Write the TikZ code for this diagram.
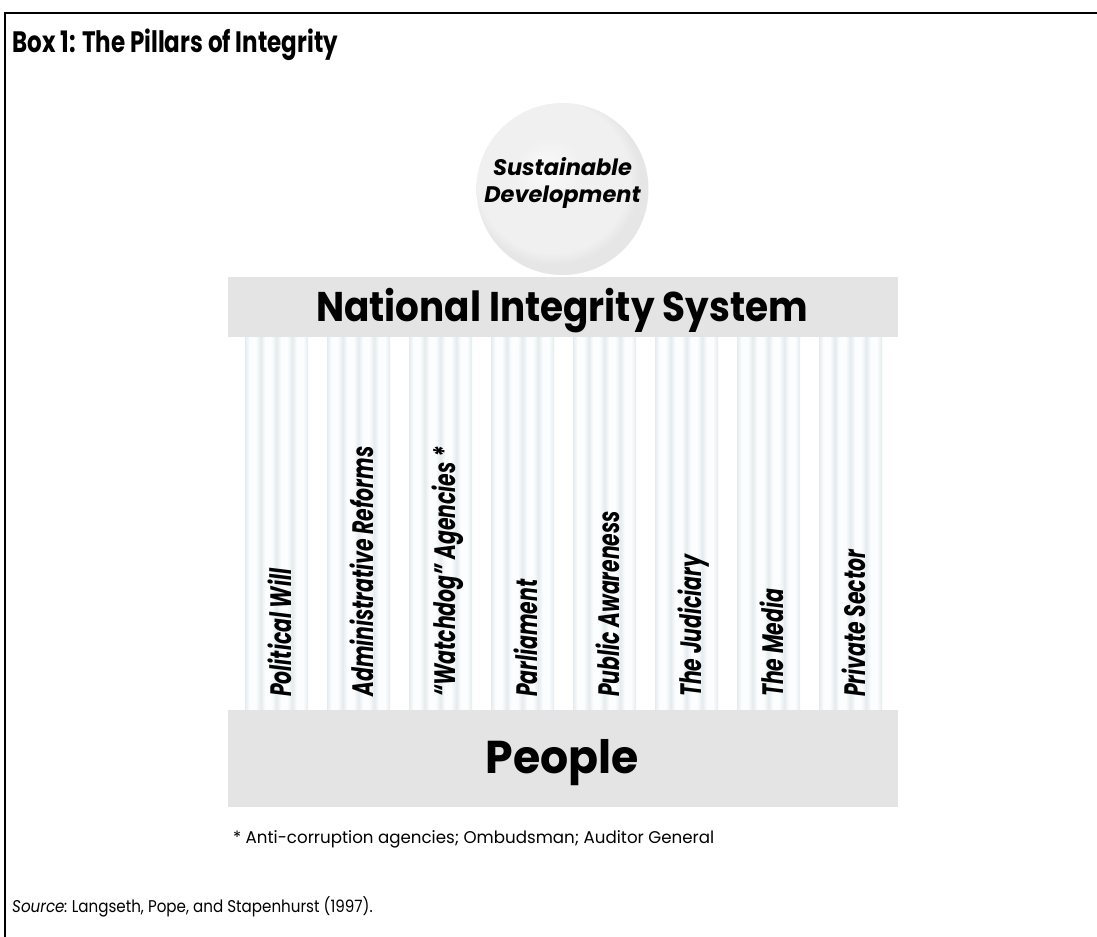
\documentclass[tikz,border=0pt]{standalone}
\usepackage{fontspec}
\setmainfont{Poppins}
\newfontfamily\titlefont[FakeStretch=0.78]{Poppins}
\newfontfamily\pillfont[FakeStretch=0.69]{Poppins}
\newfontfamily\barfont[FakeStretch=0.90]{Poppins}
\newfontfamily\peoplefont[FakeStretch=0.96]{Poppins}
\newfontfamily\bookfont[FakeStretch=0.98]{Poppins}
\newfontfamily\srcfont[FakeStretch=0.89]{Poppins}
\definecolor{bargray}{HTML}{E4E4E4}
\definecolor{pg}{HTML}{E4EBEE}
\definecolor{pw}{HTML}{FBFDFE}
\definecolor{sph0}{HTML}{FAFAFA}
\definecolor{sph1}{HTML}{F0F0F0}
\definecolor{sph2}{HTML}{E6E6E6}
\pgfdeclarehorizontalshading{flute}{100bp}{color(0bp)=(pg); color(25bp)=(pg);
  color(28.5bp)=(pw); color(33.5bp)=(pw); color(37.5bp)=(pg);
  color(41bp)=(pw); color(46bp)=(pw); color(50bp)=(pg);
  color(53.5bp)=(pw); color(58.5bp)=(pw); color(62.5bp)=(pg);
  color(66bp)=(pw); color(71bp)=(pw); color(75bp)=(pg); color(100bp)=(pg)}
\pgfdeclareradialshading{sphere}{\pgfpoint{-5bp}{6bp}}{color(0bp)=(sph0);
  color(10bp)=(sph1); color(22bp)=(sph1); color(25bp)=(sph2); color(50bp)=(sph2)}
\begin{document}
\begin{tikzpicture}[x=1bp,y=-1bp,
  bar/.style={fill=bargray, draw=none, minimum width=670bp, inner sep=0pt},
  pillar/.style={shading=flute, draw=none},
  pilllabel/.style={rotate=90, anchor=base west, inner sep=0pt,
    font=\pillfont\bfseries\itshape\fontsize{29.5bp}{32bp}\selectfont},
  bartext/.style={anchor=base, inner sep=0pt, font=\barfont\bfseries\fontsize{41.5bp}{46bp}\selectfont}]
\useasboundingbox (0,0) rectangle (1097,937);
\fill[white] (0,0) rectangle (1097,937);
\draw[line width=2.6bp] (5,937) -- (5,13) -- (1097,13);
\node[anchor=base west, inner sep=0pt, font=\titlefont\bfseries\fontsize{29.5bp}{32bp}\selectfont] (title) at (12,52) {Box 1: The Pillars of Integrity};
% sphere
\node[circle, minimum size=172bp, inner sep=0pt, shading=sphere] (sphere) at (562.5,189) {};
\node[align=center, inner sep=0pt, anchor=base, font=\bfseries\itshape\fontsize{22.5bp}{27bp}\selectfont] (sd) at (562.5,202) {Sustainable\\Development};
% top bar
\node[bar, minimum height=60bp] (nis) at (563,307) {};
\node[bartext] (nistext) at (562,321) {National Integrity System};
% pillars
\foreach \i in {0,...,7} {
  \shade[pillar] ({245+82*\i},337) rectangle ({308+82*\i},710);
}
\node[pilllabel] (l1) at ({276.5+15+82*0},697) {Political Will};
\node[pilllabel] (l2) at ({276.5+15+82*1},697) {Administrative Reforms};
\node[pilllabel] (l3) at ({276.5+15+82*2},697) {“Watchdog” Agencies *};
\node[pilllabel] (l4) at ({276.5+15+82*3},697) {Parliament};
\node[pilllabel] (l5) at ({276.5+15+82*4},697) {Public Awareness};
\node[pilllabel] (l6) at ({276.5+15+82*5},697) {The Judiciary};
\node[pilllabel] (l7) at ({276.5+15+82*6},697) {The Media};
\node[pilllabel] (l8) at ({276.5+15+82*7},697) {Private Sector};
% bottom bar
\node[bar, minimum height=97bp] (people) at (563,758.5) {};
\node[bartext, font=\peoplefont\bfseries\fontsize{46bp}{50bp}\selectfont] (peopletext) at (562,773) {People};
% notes
\node[anchor=base west, inner sep=0pt, font=\bookfont\fontsize{17bp}{20bp}\selectfont] (foot) at (233,843) {* Anti-corruption agencies; Ombudsman; Auditor General};
\node[anchor=base west, inner sep=0pt, font=\srcfont\fontsize{17bp}{20bp}\selectfont] (source) at (12,912) {\textit{Source:}\ Langseth, Pope, and Stapenhurst (1997).};
\end{tikzpicture}
\end{document}
